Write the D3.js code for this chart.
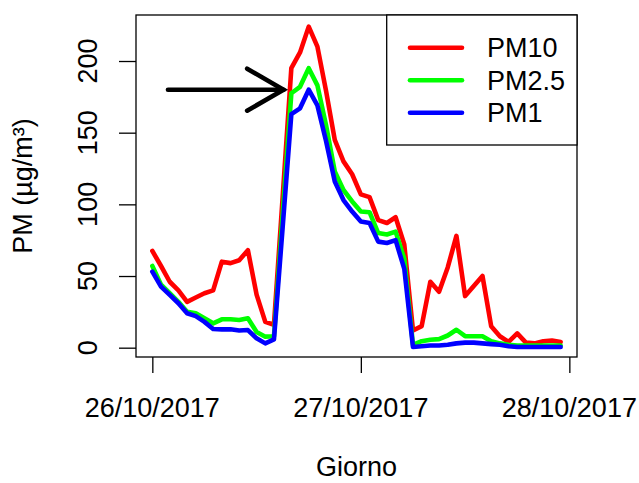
<!DOCTYPE html>
<html>
<head>
<meta charset="utf-8">
<script src="https://cdn.jsdelivr.net/npm/d3@7"></script>
<style>
  body { margin: 0; background: #fff; }
  text { font-family: "Liberation Sans", Arial, Helvetica, sans-serif; fill: #000; }
</style>
</head>
<body>
<div id="pm_chart"></div>
<script>
// Hourly readings from 26/10/2017 00:00 onwards
var startTime = new Date(2017, 9, 26, 0, 0);
var endTime = new Date(2017, 9, 27, 23, 0);

var pm10 = [67.5, 57, 46, 40, 32, 35, 38, 40, 60, 59, 61, 68, 37, 18, 16,
    105, 195, 206, 224, 210, 179, 145, 130, 121, 107, 105, 89, 87, 91, 72,
    12, 15, 46, 39, 56, 78, 36, 43, 50, 15, 8, 4, 10, 3.5, 3, 4.5, 5, 4];
var pm25 = [57, 44, 38, 32, 25, 24, 20.5, 17, 19.8, 19.8, 19.3, 20.5, 11, 7.7, 8,
    93, 177.5, 182, 195, 183, 155, 123, 110, 102, 95, 94.5, 80, 79, 81, 62,
    2, 4.5, 5.5, 6, 8.5, 12.5, 8, 8, 8, 4.5, 3, 2, 1.5, 1.5, 1.5, 1.5, 1.5, 1.5];
var pm1 = [53, 42.6, 36.8, 31, 24, 22, 18, 13, 12.8, 12.8, 12, 12.3, 6.5, 3, 5.8,
    84, 163, 167, 180, 169, 144, 116, 103, 95, 88, 87, 74, 73, 75, 55,
    0.5, 1, 1.5, 1.5, 2, 3, 3.5, 3.5, 3, 2.5, 2, 1, 0.5, 0.5, 0.5, 0.5, 0.5, 0.5];

var seriesNames = ['PM10', 'PM2.5', 'PM1'];
var seriesColors = ['#ff0000', '#00ff00', '#0000ff'];

var yTicks = [0, 50, 100, 150, 200];
var xTicks = [new Date(2017, 9, 26), new Date(2017, 9, 27), new Date(2017, 9, 28)];
var xTickLabels = ['26/10/2017', '27/10/2017', '28/10/2017'];

// Arrow annotation (hours after start, value)
var arrowFromHour = 1.8;
var arrowToHour = 15.1;
var arrowValue = 180;

// Plot region
var fullWidth = 639;
var fullHeight = 483;
var box = { left: 136, right: 577, top: 15, bottom: 357 };
var fontSize = 27;

var times = d3.timeHour.range(startTime, d3.timeHour.offset(endTime, 1));

// x scale padded by 4% like base R
var pad = (endTime - startTime) * 0.04;
var xScale = d3.scaleTime()
    .domain([new Date(+startTime - pad), new Date(+endTime + pad)])
    .range([box.left, box.right]);

var yScale = d3.scaleLinear()
    .domain([-6.5, 232.1])
    .range([box.bottom, box.top]);

var svg = d3.select('#pm_chart').append('svg')
    .attr('width', fullWidth)
    .attr('height', fullHeight);

// Data lines
var line = d3.line()
    .x(function (d, i) { return xScale(times[i]); })
    .y(function (d) { return yScale(d); });

[pm10, pm25, pm1].forEach(function (vals, k) {
    svg.append('path')
        .datum(vals)
        .attr('d', line)
        .attr('fill', 'none')
        .attr('stroke', seriesColors[k])
        .attr('stroke-width', 4.6)
        .attr('stroke-linejoin', 'round')
        .attr('stroke-linecap', 'round');
});

// Axes
var yAxis = d3.axisLeft(yScale)
    .tickValues(yTicks)
    .tickSize(17)
    .tickSizeOuter(0)
    .tickFormat('');

var yAxisEle = svg.append('g')
    .attr('transform', 'translate(' + box.left + ',0)')
    .call(yAxis);

var xAxis = d3.axisBottom(xScale)
    .tickValues(xTicks)
    .tickSize(16)
    .tickSizeOuter(0)
    .tickFormat('');

var xAxisEle = svg.append('g')
    .attr('transform', 'translate(0,' + box.bottom + ')')
    .call(xAxis);

svg.selectAll('.domain').remove();
svg.selectAll('.tick line').attr('stroke', '#000').attr('stroke-width', 1.3);

// Tick labels, R style
svg.selectAll('text.ylab').data(yTicks).enter()
    .append('text')
    .attr('class', 'ylab')
    .attr('transform', function (d) {
        return 'translate(97,' + yScale(d) + ')rotate(-90)';
    })
    .style('text-anchor', 'middle')
    .style('font-size', fontSize + 'px')
    .text(function (d) { return d; });

svg.selectAll('text.xlab').data(xTicks).enter()
    .append('text')
    .attr('class', 'xlab')
    .attr('x', function (d) { return xScale(d); })
    .attr('y', 417)
    .style('text-anchor', 'middle')
    .style('font-size', fontSize + 'px')
    .text(function (d, i) { return xTickLabels[i]; });

// Axis titles
svg.append('text')
    .attr('x', (box.left + box.right) / 2)
    .attr('y', 476)
    .style('text-anchor', 'middle')
    .style('font-size', fontSize + 'px')
    .text('Giorno');

svg.append('text')
    .attr('transform', 'translate(32,' + (box.top + box.bottom) / 2 + ')rotate(-90)')
    .style('text-anchor', 'middle')
    .style('font-size', fontSize + 'px')
    .text('PM (µg/m³)');

// Arrow
var ax0 = xScale(d3.timeMinute.offset(startTime, arrowFromHour * 60));
var ax1 = xScale(d3.timeMinute.offset(startTime, arrowToHour * 60));
var ay = yScale(arrowValue);
var headLen = 42, headAng = Math.PI / 6;
var arrow = svg.append('g')
    .attr('stroke', '#000')
    .attr('stroke-width', 4.6)
    .attr('stroke-linecap', 'round')
    .attr('fill', 'none');
arrow.append('line')
    .attr('x1', ax0).attr('y1', ay)
    .attr('x2', ax1).attr('y2', ay);
arrow.append('path')
    .attr('d', 'M' + (ax1 - headLen * Math.cos(headAng)) + ',' + (ay - headLen * Math.sin(headAng)) +
        'L' + ax1 + ',' + ay +
        'L' + (ax1 - headLen * Math.cos(headAng)) + ',' + (ay + headLen * Math.sin(headAng)));

// Plot box
svg.append('rect')
    .attr('x', box.left)
    .attr('y', box.top)
    .attr('width', box.right - box.left)
    .attr('height', box.bottom - box.top)
    .attr('fill', 'none')
    .attr('stroke', '#000')
    .attr('stroke-width', 1.3);

// Legend
var legend = svg.append('g').attr('class', 'legend');
legend.append('rect')
    .attr('x', 386.7)
    .attr('y', box.top)
    .attr('width', box.right - 386.7)
    .attr('height', 145 - box.top)
    .attr('fill', '#fff')
    .attr('stroke', '#000')
    .attr('stroke-width', 1.3);

seriesNames.forEach(function (name, i) {
    var ly = 47.7 + i * 32.5;
    legend.append('line')
        .attr('x1', 410).attr('x2', 462)
        .attr('y1', ly).attr('y2', ly)
        .attr('stroke', seriesColors[i])
        .attr('stroke-width', 4.6)
        .attr('stroke-linecap', 'round');
    legend.append('text')
        .attr('x', 487)
        .attr('y', ly + 9.5)
        .style('font-size', fontSize + 'px')
        .text(name);
});
</script>
</body>
</html>
